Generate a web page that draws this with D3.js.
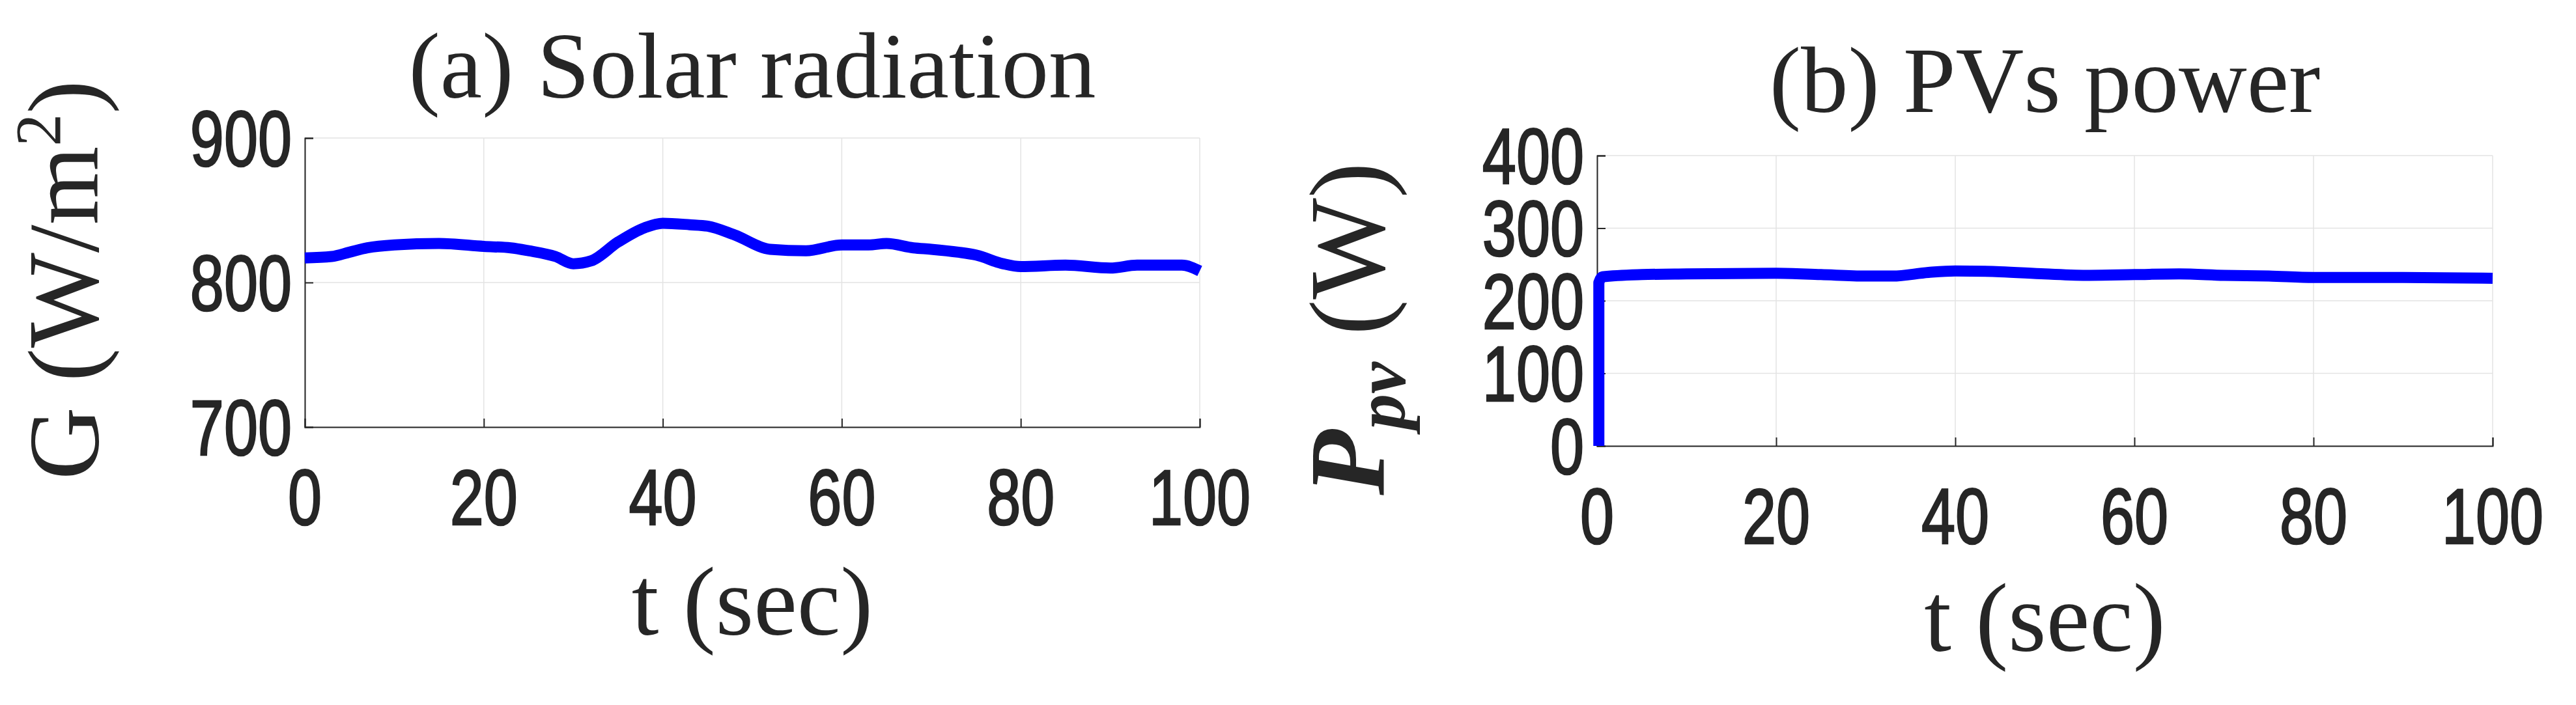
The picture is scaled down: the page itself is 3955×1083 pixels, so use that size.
<!DOCTYPE html>
<html>
<head>
<meta charset="utf-8">
<script src="https://cdn.jsdelivr.net/npm/d3@7"></script>
<style>
body { margin: 0; background: #fff; }
svg text { fill: #262626; }
</style>
</head>
<body>
<script>
// time axis shared by both panels
var tTicks = [0, 20, 40, 60, 80, 100];

// (a) solar radiation G (W/m^2)
var gTime = [0, 3, 5, 7, 10, 15, 20, 23, 25, 28, 30, 32, 35, 38, 40, 43, 45, 48, 52, 56, 60, 63, 65, 68, 70, 73, 75, 78, 80, 85, 90, 93, 95, 98, 100];
var gVals = [817, 818, 821, 824, 826, 827, 825, 824, 822, 818, 813, 815, 828, 838, 841, 840, 839, 833, 823, 822, 826, 826, 827, 824, 823, 821, 819, 813, 811, 812, 810, 812, 812, 812, 808];
var gTicks = [700, 800, 900];

// (b) PV power (W)
var pTime = [0.2, 0.2, 0.6, 5, 10, 20, 25, 30, 33, 37, 40, 45, 50, 55, 60, 65, 70, 75, 80, 90, 100];
var pVals = [0, 225, 233, 236, 237, 238, 236, 234, 234, 239, 241, 240, 237, 235, 236, 237, 235, 234, 232, 232, 231];
var pTicks = [0, 100, 200, 300, 400];

var W = 3955, H = 1083;
var sx = 0.78;
var svg = d3.select("body").append("svg").attr("width", W).attr("height", H);

function panel(cfg) {
	var x = d3.scaleLinear().domain([0, 100]).range([cfg.left, cfg.right]);
	var y = d3.scaleLinear().domain(cfg.ydom).range([cfg.bottom, cfg.top]);
	var g = svg.append("g");

	// grid
	g.selectAll(".vg").data(tTicks).enter().append("line")
		.attr("x1", function(d) { return x(d); }).attr("x2", function(d) { return x(d); })
		.attr("y1", cfg.top).attr("y2", cfg.bottom)
		.attr("stroke", "#e3e3e3").attr("stroke-width", 1.5);
	g.selectAll(".hg").data(cfg.yticks).enter().append("line")
		.attr("x1", cfg.left).attr("x2", cfg.right)
		.attr("y1", function(d) { return y(d); }).attr("y2", function(d) { return y(d); })
		.attr("stroke", "#e3e3e3").attr("stroke-width", 1.5);

	// axes (ticks pointing inward, MATLAB style)
	var xa = g.append("g").attr("transform", "translate(0," + cfg.bottom + ")")
		.call(d3.axisBottom(x).tickValues(tTicks).tickSize(-13).tickFormat(""));
	var ya = g.append("g").attr("transform", "translate(" + cfg.left + ",0)")
		.call(d3.axisLeft(y).tickValues(cfg.yticks).tickSize(-13).tickFormat(""));
	[xa, ya].forEach(function(a) {
		a.selectAll("path, line").attr("stroke", "#262626").attr("stroke-width", 2);
	});

	// tick labels
	g.selectAll(".xl").data(tTicks).enter().append("text")
		.attr("x", function(d) { return x(d) / sx; }).attr("y", cfg.bottom + 150)
		.attr("text-anchor", "middle").attr("font-family", "Liberation Sans, Arial")
		.attr("font-size", 120).attr("stroke", "#262626").attr("stroke-width", 2.5)
		.attr("transform", "scale(" + sx + ",1)")
		.text(function(d) { return d; });
	g.selectAll(".yl").data(cfg.yticks).enter().append("text")
		.attr("x", (cfg.left - 20) / sx).attr("y", function(d) { return y(d) + 43; })
		.attr("text-anchor", "end").attr("font-family", "Liberation Sans, Arial")
		.attr("font-size", 120).attr("stroke", "#262626").attr("stroke-width", 2.5)
		.attr("transform", "scale(" + sx + ",1)")
		.text(function(d) { return d; });

	// line
	var pts = cfg.t.map(function(t, i) { return [t, cfg.v[i]]; });
	g.append("path").datum(pts)
		.attr("fill", "none").attr("stroke", "#0000ff").attr("stroke-width", 17)
		.attr("stroke-linejoin", "round")
		.attr("d", d3.line().x(function(d) { return x(d[0]); }).y(function(d) { return y(d[1]); }).curve(d3.curveMonotoneX));

	// title and axis labels
	var cx = (cfg.left + cfg.right) / 2;
	g.append("text").attr("x", cx).attr("y", cfg.titleY).attr("text-anchor", "middle")
		.attr("font-family", "Liberation Serif, DejaVu Serif").attr("font-size", 145)
		.text(cfg.title);
	g.append("text").attr("x", cx).attr("y", cfg.xlabY).attr("text-anchor", "middle")
		.attr("font-family", "Liberation Serif, DejaVu Serif").attr("font-size", 150)
		.text("t (sec)");
	var yl = g.append("text").attr("text-anchor", "middle")
		.attr("transform", "translate(" + cfg.ylabX + "," + cfg.ylabY + ") rotate(-90)")
		.attr("font-family", "Liberation Serif, DejaVu Serif").attr("font-size", cfg.ylabSize);
	cfg.ylab(yl);
}

panel({
	left: 468, right: 1842, top: 212, bottom: 656, ydom: [700, 900], yticks: gTicks,
	t: gTime, v: gVals, title: "(a) Solar radiation", titleY: 150, xlabY: 975,
	ylabX: 150, ylabY: 430, ylabSize: 155,
	ylab: function(el) {
		el.append("tspan").text("G (W/m");
		el.append("tspan").attr("dy", -58).attr("font-size", 100).text("2");
		el.append("tspan").attr("dy", 58).text(")");
	}
});

panel({
	left: 2452, right: 3827, top: 239, bottom: 685, ydom: [0, 400], yticks: pTicks,
	t: pTime, v: pVals, title: "(b) PVs power", titleY: 172, xlabY: 1000,
	ylabX: 1975 + 150, ylabY: 505, ylabSize: 165,
	ylab: function(el) {
		el.append("tspan").attr("font-style", "italic").attr("font-weight", "bold").text("P");
		el.append("tspan").attr("dy", 32).attr("font-size", 110).attr("font-style", "italic").attr("font-weight", "bold").text("pv");
		el.append("tspan").attr("dy", -32).text(" (W)");
	}
});
</script>
</body>
</html>
